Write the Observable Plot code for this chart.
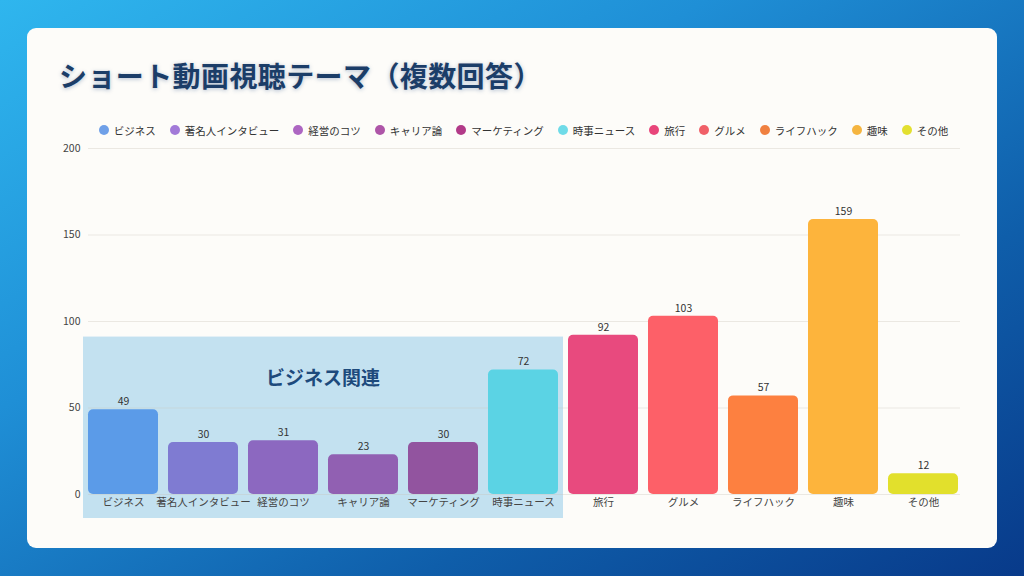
<!DOCTYPE html>
<html>
<head>
<meta charset="utf-8">
<script src="https://cdn.jsdelivr.net/npm/d3@7"></script>
<script src="https://cdn.jsdelivr.net/npm/@observablehq/plot@0.6"></script>
<style>
  html, body { margin: 0; padding: 0; }
  body {
    width: 1024px; height: 576px; overflow: hidden; position: relative;
    background: linear-gradient(150deg, #2fb6ee 0%, #1f8fd6 35%, #0f5eaa 70%, #083a8a 100%);
    font-family: "Noto Sans CJK JP", "Noto Sans", sans-serif;
  }
  #card {
    position: absolute; left: 27px; top: 28px; width: 970px; height: 520px;
    background: #fdfcf9; border-radius: 9px;
  }
  #title {
    position: absolute; left: 59px; top: 55px; margin: 0;
    font-size: 28px; font-weight: 700; color: #1b3d68; letter-spacing: 0.4px;
    text-shadow: 0 1px 4px rgba(30, 70, 130, 0.35);
    white-space: nowrap;
  }
  #legend {
    position: absolute; left: 83px; width: 881px; top: 122px; height: 16px;
    display: flex; justify-content: center; align-items: center; gap: 14px;
    font-size: 10.5px; color: #333;
  }
  .item { display: flex; align-items: center; gap: 5px; white-space: nowrap; }
  .dot { width: 10px; height: 10px; border-radius: 50%; display: inline-block; }
  #chart { position: absolute; left: 0; top: 140px; }
</style>
</head>
<body>
<div id="card"></div>
<h1 id="title">ショート動画視聴テーマ（複数回答）</h1>
<div id="legend"></div>
<div id="chart"></div>
<script>
const categories = ["ビジネス", "著名人インタビュー", "経営のコツ", "キャリア論", "マーケティング", "時事ニュース", "旅行", "グルメ", "ライフハック", "趣味", "その他"];
const values = [49, 30, 31, 23, 30, 72, 92, 103, 57, 159, 12];
const barColors = ["#5b9be8", "#7f7bd2", "#8c68c0", "#9160b2", "#92549f", "#5bd3e4", "#e84a7e", "#fd6068", "#fd8040", "#fdb43c", "#e2e02c"];
const legendColors = ["#6fa0e8", "#a27ad8", "#ad66c2", "#ae55a8", "#b23a88", "#6fdbe8", "#e8457a", "#f06068", "#f08040", "#f5b540", "#e3e030"];
const yTicks = [0, 50, 100, 150, 200];
const groupLabel = "ビジネス関連";
const groupCount = 6;
const groupTop = 91;

const data = categories.map((c, i) => ({category: c, value: values[i]}));

// Legend
const legend = d3.select("#legend");
categories.forEach((c, i) => {
  const it = legend.append("div").attr("class", "item");
  it.append("span").attr("class", "dot").style("background", legendColors[i]);
  it.append("span").text(c);
});

const padInner = 0.12;

function bandInfo(x) {
  const step = x(categories[1]) - x(categories[0]);
  const bw = (x.bandwidth !== undefined ? (typeof x.bandwidth === "function" ? x.bandwidth() : x.bandwidth) : step * (1 - padInner));
  const gap = (step - bw) / 2;
  const left = x(categories[0]) - gap;
  const right = x(categories[groupCount - 1]) + bw + gap;
  return {left, right};
}

function groupBox(index, scales) {
  const {left, right} = bandInfo(scales.x);
  const top = scales.y(groupTop);
  const bottom = scales.y(0) + 24;
  const g = d3.create("svg:g");
  g.append("rect")
    .attr("x", left).attr("y", top)
    .attr("width", right - left).attr("height", bottom - top)
    .attr("fill", "#c3e1f0");
  return g.node();
}

function groupText(index, scales) {
  const {left, right} = bandInfo(scales.x);
  const t = d3.create("svg:text")
    .attr("x", (left + right) / 2)
    .attr("y", scales.y(66))
    .attr("text-anchor", "middle")
    .attr("dominant-baseline", "middle")
    .attr("font-size", 19)
    .attr("font-weight", 700)
    .attr("fill", "#1d4a7c")
    .style("font-family", '"Noto Sans CJK JP", sans-serif')
    .text(groupLabel);
  return t.node();
}

const chart = Plot.plot({
  width: 1024,
  height: 390,
  marginLeft: 83,
  marginRight: 60,
  marginTop: 8,
  marginBottom: 36,
  style: {
    fontFamily: '"Noto Sans CJK JP", "Noto Sans", sans-serif',
    fontSize: "10.5px",
    color: "#444",
    background: "transparent",
    overflow: "visible"
  },
  x: {domain: categories, paddingInner: padInner, paddingOuter: padInner / 2, label: null},
  y: {domain: [0, 200], ticks: yTicks, label: null},
  color: {domain: categories, range: barColors},
  marks: [
    groupBox,
    Plot.gridY(yTicks, {stroke: "#c8c2b8", strokeOpacity: 0.35, insetLeft: 5, insetRight: 4}),
    Plot.barY(data, {x: "category", y: "value", fill: "category", rx: 5}),
    Plot.text(data, {x: "category", y: "value", text: d => String(d.value), dy: -8, fill: "#333", fontSize: 10.5}),
    groupText,
    Plot.axisY({ticks: yTicks, tickSize: 0, tickPadding: 3, label: null}),
    Plot.axisX({tickSize: 0, tickPadding: 4, label: null})
  ]
});
document.getElementById("chart").appendChild(chart);
</script>
</body>
</html>
